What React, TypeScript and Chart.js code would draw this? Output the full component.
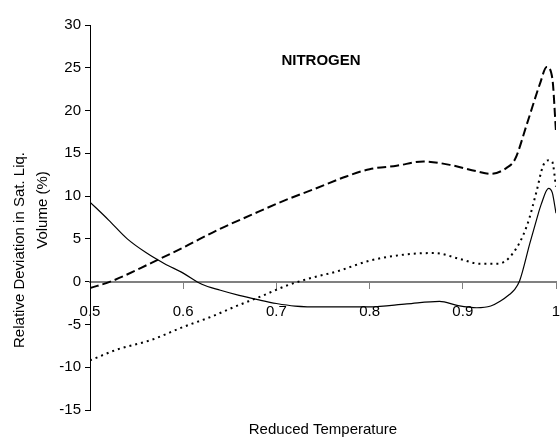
import React, { useEffect, useRef } from "react";
import { Chart, registerables } from "chart.js";

Chart.register(...registerables);

const FONT = "'Liberation Sans', Arial, Helvetica, sans-serif";

// Reduced temperature (x) and relative deviation in % (y) for each model curve
const solidT = [0.5, 0.52, 0.54, 0.56, 0.58, 0.6, 0.62, 0.64, 0.66, 0.68, 0.7, 0.72, 0.75, 0.8, 0.84, 0.875, 0.895, 0.915, 0.93, 0.94, 0.95, 0.955, 0.961, 0.972, 0.979, 0.984, 0.992, 0.996, 1.0];
const solidV = [9.3, 7.2, 5.0, 3.4, 2.1, 1.0, -0.3, -1.0, -1.6, -2.1, -2.55, -2.85, -2.95, -2.95, -2.6, -2.3, -2.8, -3.05, -2.85, -2.3, -1.5, -1.0, 0.1, 4.5, 7.2, 9.0, 10.9, 10.4, 8.0];

const dottedT = [0.5, 0.53, 0.566, 0.6, 0.63, 0.656, 0.684, 0.71, 0.736, 0.765, 0.8, 0.836, 0.87, 0.897, 0.918, 0.938, 0.954, 0.969, 0.979, 0.986, 0.992, 0.996, 1.0];
const dottedV = [-9.2, -7.9, -6.8, -5.3, -4.1, -2.9, -1.7, -0.5, 0.4, 1.2, 2.45, 3.15, 3.35, 2.65, 2.1, 2.1, 3.35, 6.6, 10.5, 13.5, 14.2, 14.0, 11.1];

const dashedT = [0.5, 0.523, 0.566, 0.602, 0.638, 0.673, 0.709, 0.74, 0.775, 0.8, 0.829, 0.858, 0.886, 0.915, 0.93, 0.947, 0.956, 0.969, 0.983, 0.99, 0.996, 1.0];
const dashedV = [-0.75, 0.05, 2.2, 4.1, 6.1, 7.8, 9.5, 10.8, 12.3, 13.15, 13.55, 14.05, 13.65, 12.9, 12.6, 13.3, 14.3, 18.5, 23.2, 25.1, 23.8, 17.5];

const yTicks = { min: -15, max: 30, step: 5 };
const xTicks = { min: 0.5, max: 1, step: 0.1 };

const chartTitle = "NITROGEN";
const xTitle = "Reduced Temperature";
const yTitleLines = ["Relative Deviation in Sat. Liq.", "Volume (%)"];

const toPoints = (xs: number[], ys: number[]) => xs.map((x, i) => ({ x, y: ys[i] }));

// Chart title and axis titles, drawn straight on the canvas
const labelsPlugin = {
  id: "labels",
  afterDraw(chart: any) {
    const ctx = chart.ctx as CanvasRenderingContext2D;
    ctx.save();
    ctx.fillStyle = "#000";
    ctx.textAlign = "center";
    ctx.textBaseline = "middle";

    ctx.font = `bold 15px ${FONT}`;
    ctx.fillText(chartTitle, 321, 61);

    ctx.font = `15px ${FONT}`;
    ctx.fillText(xTitle, 323, 430);

    ctx.save();
    ctx.translate(20, 250);
    ctx.rotate(-Math.PI / 2);
    ctx.fillText(yTitleLines[0], 0, 0);
    ctx.restore();

    ctx.save();
    ctx.translate(43, 210);
    ctx.rotate(-Math.PI / 2);
    ctx.fillText(yTitleLines[1], 0, 0);
    ctx.restore();

    ctx.restore();
  },
};

export default function App() {
  const ref = useRef<HTMLCanvasElement>(null);

  useEffect(() => {
    if (!ref.current) return;
    const chart = new Chart(ref.current, {
      type: "line",
      data: {
        datasets: [
          {
            data: toPoints(solidT, solidV),
            borderColor: "#000",
            borderWidth: 1.2,
            cubicInterpolationMode: "monotone",
          },
          {
            data: toPoints(dottedT, dottedV),
            borderColor: "#000",
            borderWidth: 2,
            borderDash: [2, 4],
            cubicInterpolationMode: "monotone",
          },
          {
            data: toPoints(dashedT, dashedV),
            borderColor: "#000",
            borderWidth: 2,
            borderDash: [9, 4],
            cubicInterpolationMode: "monotone",
          },
        ],
      },
      options: {
        responsive: false,
        animation: false,
        layout: { padding: { left: 0, right: 4, top: 25, bottom: 29 } },
        plugins: {
          legend: { display: false },
          tooltip: { enabled: false },
        },
        elements: { point: { radius: 0 } },
        scales: {
          x: {
            type: "linear",
            min: xTicks.min,
            max: xTicks.max,
            position: { y: 0 },
            ticks: {
              stepSize: xTicks.step,
              padding: 15,
              color: "#000",
              maxRotation: 0,
              font: { family: FONT, size: 15 },
              callback: (v: any) => String(Number(Number(v).toFixed(1))),
            },
            grid: { drawOnChartArea: false, tickLength: 6, tickColor: "#808080", tickWidth: 1 },
            border: { color: "#808080", width: 2 },
            // the label gap should not eat into the plot width
            afterFit: (scale: any) => {
              scale.paddingLeft = 0;
              scale.paddingRight = 4;
            },
          },
          y: {
            type: "linear",
            min: yTicks.min,
            max: yTicks.max,
            ticks: {
              stepSize: yTicks.step,
              padding: 4,
              color: "#000",
              font: { family: FONT, size: 15 },
            },
            grid: { drawOnChartArea: false, tickLength: 5, tickColor: "#000", tickWidth: 1 },
            border: { color: "#000", width: 1 },
            afterFit: (scale: any) => {
              scale.width = 90;
            },
          },
        },
      } as any,
      plugins: [labelsPlugin],
    });
    return () => chart.destroy();
  }, []);

  return (
    <div style={{ position: "fixed", left: 0, top: 0, width: 560, height: 439, background: "#fff" }}>
      <canvas ref={ref} width={560} height={439} style={{ width: 560, height: 439 }} />
    </div>
  );
}
